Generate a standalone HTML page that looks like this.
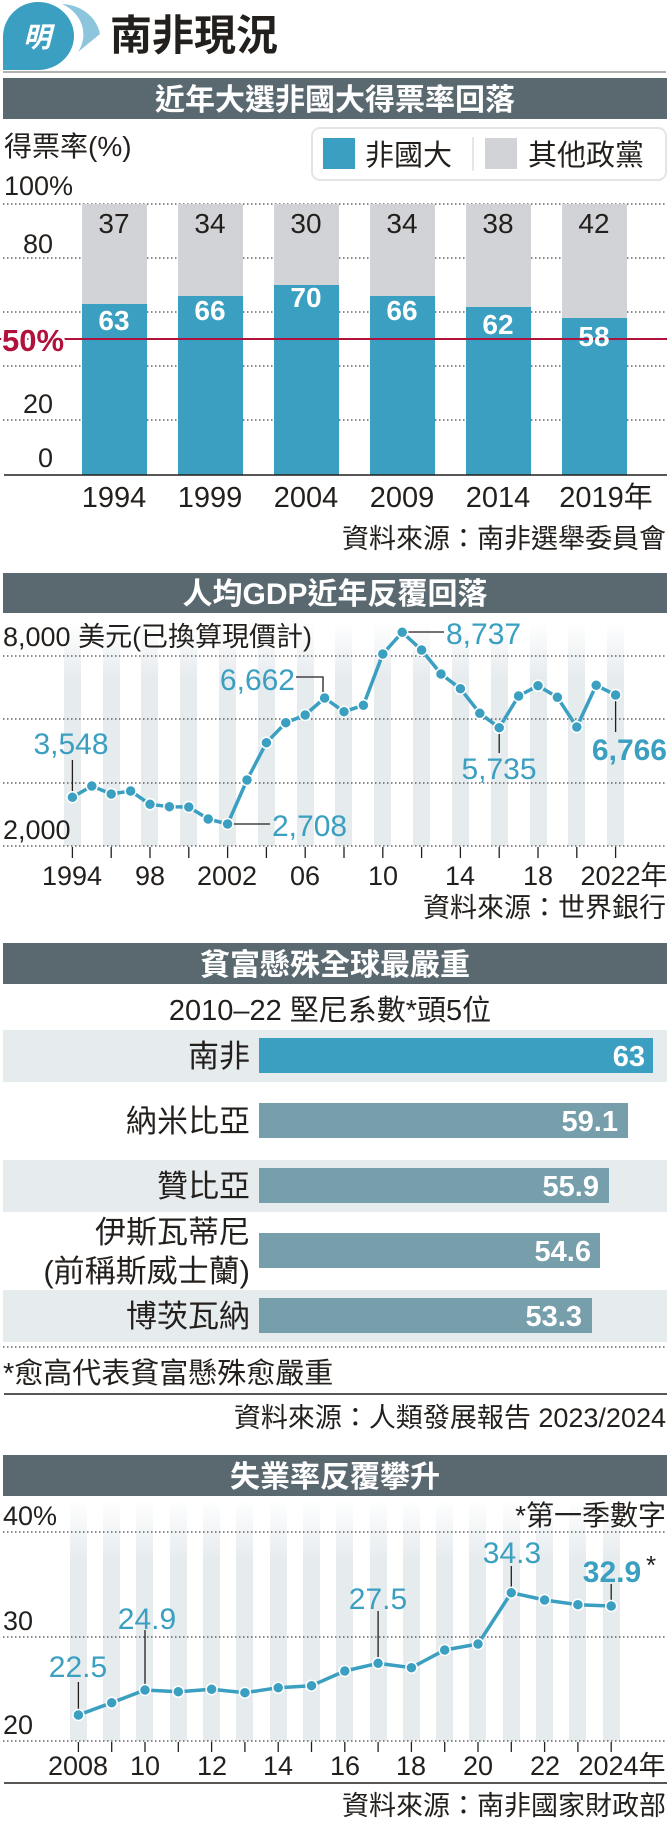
<!DOCTYPE html>
<html><head><meta charset="utf-8"><style>
html,body{margin:0;padding:0;background:#fff}
svg{display:block}
text{font-family:"Liberation Sans","Noto Sans CJK TC",sans-serif}
.n{font-family:"Liberation Sans Narrow","Liberation Sans","Noto Sans CJK TC",sans-serif}
.hd{fill:#fff;font-weight:bold;font-size:30px;text-anchor:middle}
.k{fill:#231f1c}
.b{fill:#3a9fc0}
</style></head><body>
<svg width="671" height="1821" viewBox="0 0 671 1821" xmlns="http://www.w3.org/2000/svg">
<defs>
<linearGradient id="fg" x1="0" y1="0" x2="0" y2="1"><stop offset="0" stop-color="#e6ebee" stop-opacity="0"/><stop offset="0.25" stop-color="#e6ebee"/><stop offset="1" stop-color="#e6ebee"/></linearGradient>
</defs>
<!-- logo -->
<path d="M62,4 A40,36 0 0 1 100,34 L78,52 A38,34 0 0 0 62,4Z" fill="#8cc5dc"/>
<path d="M38,2 A36,34 0 1 1 38,70 L3,70 L3,38 A35,35 0 0 1 38,2Z" fill="#3a9fc0"/>
<text x="37" y="47" font-size="28" font-weight="bold" fill="#fff" text-anchor="middle" font-style="italic">明</text>
<text x="110" y="50" font-size="42" font-weight="bold" class="k">南非現況</text>
<line x1="3" y1="72" x2="666" y2="72" stroke="#666" stroke-width="1"/>

<!-- Section 1 -->
<rect x="3" y="78" width="664" height="41" fill="#5a6870"/>
<text x="335" y="110" class="hd">近年大選非國大得票率回落</text>
<text x="4" y="156" font-size="28" class="k">得票率(%)</text>
<text x="4" y="195" font-size="27" class="k">100%</text>
<rect x="312" y="128" width="354" height="52" rx="8" fill="#fff" stroke="#e4e4e4" stroke-width="2"/>
<rect x="323" y="138" width="32" height="31" fill="#3a9fc0"/>
<text x="365" y="165" font-size="29" class="k">非國大</text>
<line x1="473" y1="137" x2="473" y2="171" stroke="#ccc"/>
<rect x="485" y="138" width="32" height="31" fill="#d1d3d6"/>
<text x="528" y="165" font-size="29" class="k">其他政黨</text>
<g stroke="#444" stroke-width="1.2" stroke-dasharray="1.5,2.5">
<line x1="3" y1="204" x2="667" y2="204"/><line x1="3" y1="258" x2="667" y2="258"/><line x1="3" y1="312" x2="667" y2="312"/><line x1="3" y1="366" x2="667" y2="366"/><line x1="3" y1="420" x2="667" y2="420"/>
</g>
<text x="53" y="253" font-size="27" class="k" text-anchor="end">80</text>
<text x="53" y="413" font-size="27" class="k" text-anchor="end">20</text>
<text x="53" y="467" font-size="27" class="k" text-anchor="end">0</text>
<g>
<rect x="82" y="204" width="65" height="271" fill="#d1d3d6"/><rect x="82" y="304" width="65" height="171" fill="#3a9fc0"/>
<rect x="178" y="204" width="65" height="271" fill="#d1d3d6"/><rect x="178" y="296" width="65" height="179" fill="#3a9fc0"/>
<rect x="274" y="204" width="65" height="271" fill="#d1d3d6"/><rect x="274" y="285" width="65" height="190" fill="#3a9fc0"/>
<rect x="370" y="204" width="65" height="271" fill="#d1d3d6"/><rect x="370" y="296" width="65" height="179" fill="#3a9fc0"/>
<rect x="466" y="204" width="65" height="271" fill="#d1d3d6"/><rect x="466" y="307" width="65" height="168" fill="#3a9fc0"/>
<rect x="562" y="204" width="65" height="271" fill="#d1d3d6"/><rect x="562" y="318" width="65" height="157" fill="#3a9fc0"/>
</g>
<g font-size="28" class="k n" text-anchor="middle">
<text x="114" y="233">37</text><text x="210" y="233">34</text><text x="306" y="233">30</text><text x="402" y="233">34</text><text x="498" y="233">38</text><text x="594" y="233">42</text>
</g>
<line x1="0" y1="339" x2="667" y2="339" stroke="#b0123c" stroke-width="2"/>
<g font-size="28" font-weight="bold" fill="#fff" text-anchor="middle" class="n">
<text x="114" y="330">63</text><text x="210" y="320">66</text><text x="306" y="307">70</text><text x="402" y="320">66</text><text x="498" y="334">62</text><text x="594" y="346">58</text>
</g>
<text x="2" y="351" font-size="31" font-weight="bold" fill="#b0123c" stroke="#fff" stroke-width="5" paint-order="stroke" class="n">50%</text>
<line x1="4" y1="475" x2="667" y2="475" stroke="#231f1c" stroke-width="1.5"/>
<g font-size="29" class="k n" text-anchor="middle">
<text x="114" y="507">1994</text><text x="210" y="507">1999</text><text x="306" y="507">2004</text><text x="402" y="507">2009</text><text x="498" y="507">2014</text><text x="606" y="507">2019年</text>
</g>
<text x="666" y="548" font-size="27" class="k" text-anchor="end">資料來源：南非選舉委員會</text>

<!-- Section 2 -->
<rect x="3" y="573" width="664" height="40" fill="#5a6870"/>
<text x="335" y="604" class="hd">人均GDP近年反覆回落</text>
<g fill="url(#fg)">
<rect x="64" y="623" width="17" height="223"/><rect x="103" y="623" width="17" height="223"/><rect x="141" y="623" width="17" height="223"/><rect x="180" y="623" width="17" height="223"/><rect x="219" y="623" width="17" height="223"/><rect x="258" y="623" width="17" height="223"/><rect x="297" y="623" width="17" height="223"/><rect x="335" y="623" width="17" height="223"/><rect x="374" y="623" width="17" height="223"/><rect x="413" y="623" width="17" height="223"/><rect x="452" y="623" width="17" height="223"/><rect x="491" y="623" width="17" height="223"/><rect x="530" y="623" width="17" height="223"/><rect x="568" y="623" width="17" height="223"/><rect x="607" y="623" width="17" height="223"/>
</g>
<text x="3" y="646" font-size="27" class="k n">8,000 美元(已換算現價計)</text>
<g stroke="#444" stroke-width="1.2" stroke-dasharray="1.5,2.5">
<line x1="3" y1="656" x2="667" y2="656"/><line x1="3" y1="719" x2="667" y2="719"/><line x1="3" y1="783" x2="667" y2="783"/><line x1="3" y1="846" x2="667" y2="846"/>
</g>
<text x="3" y="839" font-size="27" class="k n">2,000</text>
<g stroke="#231f1c" stroke-width="1.3">
<line x1="72.4" y1="847" x2="72.4" y2="858"/><line x1="111.2" y1="847" x2="111.2" y2="858"/><line x1="150" y1="847" x2="150" y2="858"/><line x1="188.8" y1="847" x2="188.8" y2="858"/><line x1="227.6" y1="847" x2="227.6" y2="858"/><line x1="266.4" y1="847" x2="266.4" y2="858"/><line x1="305.2" y1="847" x2="305.2" y2="858"/><line x1="344" y1="847" x2="344" y2="858"/><line x1="382.8" y1="847" x2="382.8" y2="858"/><line x1="421.6" y1="847" x2="421.6" y2="858"/><line x1="460.4" y1="847" x2="460.4" y2="858"/><line x1="499.2" y1="847" x2="499.2" y2="858"/><line x1="538" y1="847" x2="538" y2="858"/><line x1="576.8" y1="847" x2="576.8" y2="858"/><line x1="615.6" y1="847" x2="615.6" y2="858"/>
</g>
<g font-size="27" class="k n" text-anchor="middle">
<text x="72" y="885">1994</text><text x="150" y="885">98</text><text x="227" y="885">2002</text><text x="305" y="885">06</text><text x="383" y="885">10</text><text x="460" y="885">14</text><text x="538" y="885">18</text><text x="624" y="885">2022年</text>
</g>
<text x="666" y="917" font-size="27" class="k" text-anchor="end">資料來源：世界銀行</text>
<g stroke="#231f1c" stroke-width="1.3" fill="none">
<line x1="72.4" y1="760" x2="72.4" y2="793"/>
<line x1="231" y1="824" x2="270" y2="824"/>
<polyline points="296,677 323,677 323,693"/>
<line x1="407" y1="632" x2="444" y2="632"/>
<line x1="499.2" y1="733" x2="499.2" y2="753"/>
<line x1="615.6" y1="700" x2="615.6" y2="732"/>
</g>
<polyline fill="none" stroke="#3a9fc0" stroke-width="3.5" stroke-linejoin="round" points="72.4,797.3 91.8,786 111.2,794 130.6,791 150,804.3 169.4,806.7 188.8,807 208.2,819 227.6,824 247,780 266.4,742.7 285.8,722.7 305.2,715 324.6,698 344,711.7 363.4,705.3 382.8,654 402.2,632.3 421.6,650 441,674 460.4,688.7 479.8,713.3 499.2,727.7 518.6,696 538,685.7 557.4,697.3 576.8,727 596.2,685.3 615.6,695"/>
<g fill="#3a9fc0" stroke="#fff" stroke-width="1.5">
<circle cx="72.4" cy="797.3" r="5.5"/><circle cx="91.8" cy="786" r="5.5"/><circle cx="111.2" cy="794" r="5.5"/><circle cx="130.6" cy="791" r="5.5"/><circle cx="150" cy="804.3" r="5.5"/><circle cx="169.4" cy="806.7" r="5.5"/><circle cx="188.8" cy="807" r="5.5"/><circle cx="208.2" cy="819" r="5.5"/><circle cx="227.6" cy="824" r="5.5"/><circle cx="247" cy="780" r="5.5"/><circle cx="266.4" cy="742.7" r="5.5"/><circle cx="285.8" cy="722.7" r="5.5"/><circle cx="305.2" cy="715" r="5.5"/><circle cx="324.6" cy="698" r="5.5"/><circle cx="344" cy="711.7" r="5.5"/><circle cx="363.4" cy="705.3" r="5.5"/><circle cx="382.8" cy="654" r="5.5"/><circle cx="402.2" cy="632.3" r="5.5"/><circle cx="421.6" cy="650" r="5.5"/><circle cx="441" cy="674" r="5.5"/><circle cx="460.4" cy="688.7" r="5.5"/><circle cx="479.8" cy="713.3" r="5.5"/><circle cx="499.2" cy="727.7" r="5.5"/><circle cx="518.6" cy="696" r="5.5"/><circle cx="538" cy="685.7" r="5.5"/><circle cx="557.4" cy="697.3" r="5.5"/><circle cx="576.8" cy="727" r="5.5"/><circle cx="596.2" cy="685.3" r="5.5"/><circle cx="615.6" cy="695" r="5.5"/>
</g>
<g font-size="30" class="b n">
<text x="71" y="754" text-anchor="middle">3,548</text>
<text x="272" y="836">2,708</text>
<text x="295" y="690" text-anchor="end">6,662</text>
<text x="446" y="644">8,737</text>
<text x="499" y="779" text-anchor="middle">5,735</text>
<text x="667" y="760" text-anchor="end" font-weight="bold">6,766</text>
</g>

<!-- Section 3 -->
<rect x="3" y="943" width="664" height="41" fill="#5a6870"/>
<text x="335" y="975" class="hd">貧富懸殊全球最嚴重</text>
<text x="330" y="1020" font-size="29" class="k" text-anchor="middle">2010–22 堅尼系數*頭5位</text>
<rect x="3" y="1030" width="664" height="52" fill="#e6ebee"/>
<rect x="3" y="1160" width="664" height="52" fill="#e6ebee"/>
<rect x="3" y="1290" width="664" height="52" fill="#e6ebee"/>
<rect x="259" y="1038" width="394" height="35" fill="#3a9fc0"/>
<rect x="259" y="1103" width="369" height="35" fill="#769eab"/>
<rect x="259" y="1168" width="350" height="35" fill="#769eab"/>
<rect x="259" y="1233" width="341" height="35" fill="#769eab"/>
<rect x="259" y="1298" width="333" height="35" fill="#769eab"/>
<g font-size="31" class="k" text-anchor="end">
<text x="250" y="1067">南非</text>
<text x="250" y="1132">納米比亞</text>
<text x="250" y="1197">贊比亞</text>
<text x="250" y="1243">伊斯瓦蒂尼</text>
<text x="250" y="1282">(前稱斯威士蘭)</text>
<text x="250" y="1327">博茨瓦納</text>
</g>
<g font-size="29" font-weight="bold" fill="#fff" text-anchor="end" class="n">
<text x="645" y="1066">63</text><text x="618" y="1131">59.1</text><text x="599" y="1196">55.9</text><text x="591" y="1261">54.6</text><text x="582" y="1326">53.3</text>
</g>
<line x1="3" y1="1347" x2="667" y2="1347" stroke="#444" stroke-width="1.2" stroke-dasharray="1.5,2.5"/>
<text x="3" y="1383" font-size="29" class="k">*愈高代表貧富懸殊愈嚴重</text>
<line x1="4" y1="1394" x2="667" y2="1394" stroke="#231f1c" stroke-width="1.5"/>
<text x="666" y="1427" font-size="27" class="k" text-anchor="end">資料來源：人類發展報告 2023/2024</text>

<!-- Section 4 -->
<rect x="3" y="1455" width="664" height="41" fill="#5a6870"/>
<text x="335" y="1487" class="hd">失業率反覆攀升</text>
<g fill="url(#fg)">
<rect x="70" y="1500" width="17" height="241"/><rect x="103" y="1500" width="17" height="241"/><rect x="136" y="1500" width="17" height="241"/><rect x="170" y="1500" width="17" height="241"/><rect x="203" y="1500" width="17" height="241"/><rect x="236" y="1500" width="17" height="241"/><rect x="270" y="1500" width="17" height="241"/><rect x="303" y="1500" width="17" height="241"/><rect x="336" y="1500" width="17" height="241"/><rect x="370" y="1500" width="17" height="241"/><rect x="403" y="1500" width="17" height="241"/><rect x="436" y="1500" width="17" height="241"/><rect x="469" y="1500" width="17" height="241"/><rect x="503" y="1500" width="17" height="241"/><rect x="536" y="1500" width="17" height="241"/><rect x="569" y="1500" width="17" height="241"/><rect x="603" y="1500" width="17" height="241"/>
</g>
<text x="3" y="1525" font-size="27" class="k n">40%</text>
<text x="666" y="1525" font-size="28" class="k" text-anchor="end">*第一季數字</text>
<g stroke="#444" stroke-width="1.2" stroke-dasharray="1.5,2.5">
<line x1="3" y1="1532" x2="667" y2="1532"/><line x1="3" y1="1637" x2="667" y2="1637"/><line x1="3" y1="1741" x2="667" y2="1741"/>
</g>
<text x="3" y="1630" font-size="27" class="k n">30</text>
<text x="3" y="1734" font-size="27" class="k n">20</text>
<g stroke="#231f1c" stroke-width="1.3">
<line x1="78.4" y1="1742" x2="78.4" y2="1752"/><line x1="111.7" y1="1742" x2="111.7" y2="1752"/><line x1="145" y1="1742" x2="145" y2="1752"/><line x1="178.3" y1="1742" x2="178.3" y2="1752"/><line x1="211.6" y1="1742" x2="211.6" y2="1752"/><line x1="244.9" y1="1742" x2="244.9" y2="1752"/><line x1="278.2" y1="1742" x2="278.2" y2="1752"/><line x1="311.5" y1="1742" x2="311.5" y2="1752"/><line x1="344.8" y1="1742" x2="344.8" y2="1752"/><line x1="378.1" y1="1742" x2="378.1" y2="1752"/><line x1="411.4" y1="1742" x2="411.4" y2="1752"/><line x1="444.7" y1="1742" x2="444.7" y2="1752"/><line x1="478" y1="1742" x2="478" y2="1752"/><line x1="511.3" y1="1742" x2="511.3" y2="1752"/><line x1="544.6" y1="1742" x2="544.6" y2="1752"/><line x1="577.9" y1="1742" x2="577.9" y2="1752"/><line x1="611.2" y1="1742" x2="611.2" y2="1752"/>
</g>
<g font-size="27" class="k n" text-anchor="middle">
<text x="78" y="1775">2008</text><text x="145" y="1775">10</text><text x="212" y="1775">12</text><text x="278" y="1775">14</text><text x="345" y="1775">16</text><text x="411" y="1775">18</text><text x="478" y="1775">20</text><text x="545" y="1775">22</text><text x="622" y="1775">2024年</text>
</g>
<line x1="4" y1="1783" x2="667" y2="1783" stroke="#231f1c" stroke-width="1.5"/>
<text x="666" y="1815" font-size="27" class="k" text-anchor="end">資料來源：南非國家財政部</text>
<g stroke="#231f1c" stroke-width="1.3">
<line x1="78.4" y1="1682" x2="78.4" y2="1710"/>
<line x1="145" y1="1630" x2="145" y2="1687"/>
<line x1="378.1" y1="1611" x2="378.1" y2="1660"/>
<line x1="511.3" y1="1566" x2="511.3" y2="1588"/>
<line x1="611.2" y1="1584" x2="611.2" y2="1600"/>
</g>
<polyline fill="none" stroke="#3a9fc0" stroke-width="3.5" stroke-linejoin="round" points="78.4,1715 111.7,1702.7 145,1690 178.3,1691.7 211.6,1689.3 244.9,1692.7 278.2,1687.7 311.5,1685.7 344.8,1671 378.1,1663.3 411.4,1667.7 444.7,1650 478,1644 511.3,1592.7 544.6,1600 577.9,1604.7 611.2,1606"/>
<g fill="#3a9fc0" stroke="#fff" stroke-width="1.5">
<circle cx="78.4" cy="1715" r="5.5"/><circle cx="111.7" cy="1702.7" r="5.5"/><circle cx="145" cy="1690" r="5.5"/><circle cx="178.3" cy="1691.7" r="5.5"/><circle cx="211.6" cy="1689.3" r="5.5"/><circle cx="244.9" cy="1692.7" r="5.5"/><circle cx="278.2" cy="1687.7" r="5.5"/><circle cx="311.5" cy="1685.7" r="5.5"/><circle cx="344.8" cy="1671" r="5.5"/><circle cx="378.1" cy="1663.3" r="5.5"/><circle cx="411.4" cy="1667.7" r="5.5"/><circle cx="444.7" cy="1650" r="5.5"/><circle cx="478" cy="1644" r="5.5"/><circle cx="511.3" cy="1592.7" r="5.5"/><circle cx="544.6" cy="1600" r="5.5"/><circle cx="577.9" cy="1604.7" r="5.5"/><circle cx="611.2" cy="1606" r="5.5"/>
</g>
<g font-size="30" class="b n" text-anchor="middle">
<text x="78" y="1677">22.5</text>
<text x="147" y="1629">24.9</text>
<text x="378" y="1609">27.5</text>
<text x="512" y="1563">34.3</text>
<text x="612" y="1582" font-weight="bold">32.9</text>
</g>
<text x="646" y="1574" font-size="26" class="k">*</text>
</svg>
</body></html>
